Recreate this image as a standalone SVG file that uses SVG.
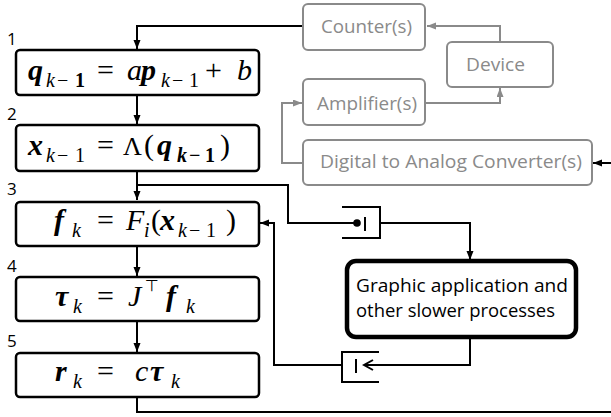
<svg xmlns="http://www.w3.org/2000/svg" width="611" height="417" viewBox="0 0 611 417">
<style>
.box{fill:#fff;stroke:#000;stroke-width:2.5}
.gbox{fill:#fff;stroke:#8a8a8a;stroke-width:2}
.big{fill:#fff;stroke:#000;stroke-width:4.5}
.ln{fill:none;stroke:#000;stroke-width:2}
.gln{fill:none;stroke:#8a8a8a;stroke-width:2}
.m{font-family:"Liberation Serif","DejaVu Serif",serif;font-size:30px;fill:#000}
.s{font-size:20px}
.i{font-style:italic}
.bi{font-style:italic;font-weight:bold}
.b{font-weight:bold}
.lab{font-family:"Open Sans","Liberation Sans",sans-serif;font-size:17px;fill:#000}
.gt{font-family:"Open Sans","Liberation Sans",sans-serif;font-size:19px;fill:#8a8a8a}
.bt{font-family:"Open Sans","Liberation Sans",sans-serif;font-size:19px;fill:#000}
</style>
<defs>
<marker id="ab" markerUnits="userSpaceOnUse" markerWidth="10" markerHeight="8" refX="9" refY="3.5" orient="auto"><path d="M0,0 L9,3.5 L0,7 z" fill="#000"/></marker>
<marker id="ag" markerUnits="userSpaceOnUse" markerWidth="10" markerHeight="8" refX="9" refY="3.5" orient="auto"><path d="M0,0 L9,3.5 L0,7 z" fill="#8a8a8a"/></marker>
<marker id="ao" markerUnits="userSpaceOnUse" markerWidth="12" markerHeight="12" refX="10" refY="6" orient="auto"><path d="M1,1 L10,6 L1,11" fill="none" stroke="#000" stroke-width="2"/></marker>
</defs>

<g id="connectors">
<path class="ln" d="M303,26 H137 V49" marker-end="url(#ab)"/>
<path class="ln" d="M137,95 V124" marker-end="url(#ab)"/>
<path class="ln" d="M137,171 V200" marker-end="url(#ab)"/>
<path class="ln" d="M137,185 H288 V223 H354"/>
<circle cx="357" cy="223" r="3.8" fill="#000"/>
<path class="ln" d="M365,217 V231" stroke-width="2.5"/>
<path class="ln" d="M342,207 H380 V238 H342"/>
<path class="ln" d="M380,223 H470 V260" marker-end="url(#ab)"/>
<path class="ln" d="M137,246 V276" marker-end="url(#ab)"/>
<path class="ln" d="M137,321 V352" marker-end="url(#ab)"/>
<path class="ln" d="M137,397 V412 H611"/>
<path class="ln" d="M470,337 V365 H364" marker-end="url(#ao)"/>
<path class="ln" d="M379,352 H342 V382 H379"/>
<path class="ln" d="M356,359 V373" stroke-width="2.5"/>
<path class="ln" d="M342,365 H274 V223 H260" marker-end="url(#ab)"/>
<path class="ln" d="M611,163 H593" marker-end="url(#ab)"/>
<path class="gln" d="M500,42 V26 H427" marker-end="url(#ag)"/>
<path class="gln" d="M425,103 H500 V88" marker-end="url(#ag)"/>
<path class="gln" d="M303,163 H282 V103 H302" marker-end="url(#ag)"/>
</g>

<g id="label-1"><text class="lab" x="7" y="45">1</text></g>
<g id="label-2"><text class="lab" x="7" y="120">2</text></g>
<g id="label-3"><text class="lab" x="7" y="195">3</text></g>
<g id="label-4"><text class="lab" x="7" y="272">4</text></g>
<g id="label-5"><text class="lab" x="7" y="347">5</text></g>

<g id="step1">
<rect class="box" x="16" y="50" width="243" height="45" rx="4"/>
<text class="m"><tspan x="28" y="80" class="bi">q</tspan><tspan x="46" y="87" class="s i">k</tspan><tspan x="57" y="87" class="s">−</tspan><tspan x="75" y="87" class="s b">1</tspan><tspan x="97" y="80">=</tspan><tspan x="127" y="80" class="i">a</tspan><tspan x="141" y="80" class="bi">p</tspan><tspan x="161" y="87" class="s i">k</tspan><tspan x="172" y="87" class="s">−</tspan><tspan x="189" y="87" class="s">1</tspan><tspan x="205" y="80">+</tspan><tspan x="237" y="80" class="i">b</tspan></text>
</g>

<g id="step2">
<rect class="box" x="16" y="125" width="243" height="46" rx="4"/>
<text class="m"><tspan x="28" y="155" class="bi">x</tspan><tspan x="46" y="162" class="s i">k</tspan><tspan x="57" y="162" class="s">−</tspan><tspan x="75" y="162" class="s">1</tspan><tspan x="97" y="155">=</tspan><tspan x="123" y="155" style="font-size:26px">Λ</tspan><tspan x="144" y="155">(</tspan><tspan x="157" y="155" class="bi">q</tspan><tspan x="177" y="162" class="s bi">k</tspan><tspan x="189" y="162" class="s b">−</tspan><tspan x="205" y="162" class="s b">1</tspan><tspan x="220" y="155">)</tspan></text>
</g>

<g id="step3">
<rect class="box" x="16" y="202" width="243" height="44" rx="4"/>
<text class="m"><tspan x="54" y="230" class="bi">f</tspan><tspan x="72" y="237" class="s i">k</tspan><tspan x="97" y="230">=</tspan><tspan x="126" y="230" class="i">F</tspan><tspan x="144" y="237" class="s i">i</tspan><tspan x="151" y="230">(</tspan><tspan x="160" y="230" class="bi">x</tspan><tspan x="178" y="237" class="s i">k</tspan><tspan x="189" y="237" class="s">−</tspan><tspan x="206" y="237" class="s">1</tspan><tspan x="226" y="230">)</tspan></text>
</g>

<g id="step4">
<rect class="box" x="16" y="277" width="243" height="44" rx="4"/>
<text class="m"><tspan x="55" y="306" class="bi">τ</tspan><tspan x="73" y="313" class="s i">k</tspan><tspan x="97" y="306">=</tspan><tspan x="128" y="306" class="i">J</tspan><tspan x="145" y="291" class="s" style="font-family:'DejaVu Sans',sans-serif;font-size:16px">⊤</tspan><tspan x="166" y="306" class="bi">f</tspan><tspan x="186" y="313" class="s i">k</tspan></text>
</g>

<g id="step5">
<rect class="box" x="16" y="353" width="243" height="44" rx="4"/>
<text class="m"><tspan x="55" y="381" class="bi">r</tspan><tspan x="73" y="388" class="s i">k</tspan><tspan x="97" y="381">=</tspan><tspan x="135" y="381" class="i">c</tspan><tspan x="150" y="381" class="bi">τ</tspan><tspan x="171" y="388" class="s i">k</tspan></text>
</g>

<g id="counter">
<rect class="gbox" x="303" y="4" width="122" height="46" rx="5"/>
<text class="gt" x="321" y="33" textLength="91" lengthAdjust="spacingAndGlyphs">Counter(s)</text>
</g>

<g id="device">
<rect class="gbox" x="447" y="42" width="106" height="45" rx="5"/>
<text class="gt" x="466" y="71" textLength="59" lengthAdjust="spacingAndGlyphs">Device</text>
</g>

<g id="amplifier">
<rect class="gbox" x="303" y="79" width="122" height="46" rx="5"/>
<text class="gt" x="317" y="110" textLength="100" lengthAdjust="spacingAndGlyphs">Amplifier(s)</text>
</g>

<g id="dac">
<rect class="gbox" x="303" y="140" width="289" height="45" rx="5"/>
<text class="gt" x="320" y="168" textLength="262" lengthAdjust="spacingAndGlyphs">Digital to Analog Converter(s)</text>
</g>

<g id="graphic">
<rect class="big" x="347" y="261" width="229" height="76" rx="9"/>
<text class="bt" x="356" y="292" textLength="212" lengthAdjust="spacingAndGlyphs">Graphic application and</text>
<text class="bt" x="356" y="317" textLength="199" lengthAdjust="spacingAndGlyphs">other slower processes</text>
</g>
</svg>
